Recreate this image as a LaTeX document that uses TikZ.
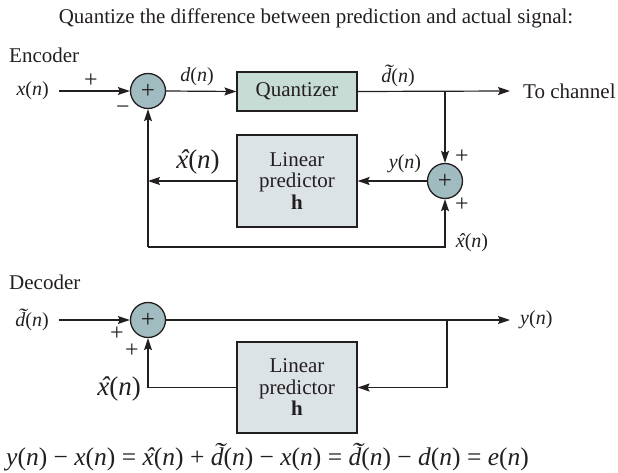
\documentclass[tikz,border=0pt]{standalone}
\usepackage{fontspec}
\setmainfont{Liberation Serif}
\usepackage{xcolor}
\usetikzlibrary{positioning, arrows.meta}

\definecolor{ink}{RGB}{35,31,32}
\definecolor{sumfill}{RGB}{160,188,192}
\definecolor{quantfill}{RGB}{200,220,214}
\definecolor{predfill}{RGB}{220,227,230}

\newcommand{\sgl}[1]{\textit{#1}(\textit{n})}
% hat and tilde laid over an italic letter
\newcommand{\xhat}{\leavevmode\setbox0\hbox{\itshape x}%
  \rlap{\hbox to\wd0{\hss\kern0.12em\itshape ˆ\hss}}\box0}
\newcommand{\dtil}{\leavevmode\setbox0\hbox{\itshape d}%
  \rlap{\hbox to\wd0{\hss\kern0.16em\raisebox{0.2em}{\scalebox{1.35}[1]{˜}}\hss}}\box0}

\begin{document}
\begin{tikzpicture}[
  x=1pt, y=-1pt, color=ink,
  font=\fontsize{21}{22}\selectfont,
  sumnode/.style={draw, circle, fill=sumfill, minimum size=35pt, inner sep=0pt,
                  line width=1.3pt, font=\fontsize{25}{25}\selectfont},
  quantbox/.style={draw, fill=quantfill, minimum width=120pt, minimum height=39pt,
                   line width=1.2pt},
  predbox/.style={draw, fill=predfill, align=center, minimum width=120pt,
                  minimum height=92pt, line width=1.2pt,
                  font=\fontsize{21}{21.5}\selectfont},
  sig/.style={inner sep=1pt, font=\fontsize{20}{20}\selectfont},
  bigsig/.style={inner sep=1pt, font=\fontsize{27}{27}\selectfont},
  sign/.style={inner sep=0pt, font=\fontsize{24}{24}\selectfont},
  arrow/.style={-{Stealth[length=12pt, width=8pt, inset=2pt]}, line width=1.2pt},
]
\useasboundingbox (0,0) rectangle (618,473);

\node (title) at (316,18) {Quantize the difference between prediction and actual signal:};

% encoder
\node[anchor=west, inner sep=0pt] (enc) at (9,55) {Encoder};
\node[sig, anchor=east, inner xsep=10pt] (xin) at (59,91) {\sgl{x}};
\node[sumnode] (sum1) at (148,91) {+};
\node[quantbox] (quant) at (297,91.5) {Quantizer};
\node[anchor=west, inner xsep=13pt] (chan) at (510,91) {To channel};
\coordinate (br1) at (445,91);
\node[sumnode] (sum2) at (445,181) {+};
\node[predbox] (pred1) at (297,181) {Linear\\predictor\\\textbf{h}};
\coordinate (fbl) at (148,247);

\draw[arrow] (xin.east) -- (sum1.west);
\draw[arrow] (sum1.east) -- (quant.west);
\draw[arrow] (quant.east) -- (chan.west);
\draw[arrow] (br1) -- (sum2.north);
\draw[arrow] (sum2.west) -- (pred1.east);
\draw[arrow] (pred1.west) -- (pred1.west -| fbl);
\draw[arrow] (fbl) -- (sum1.south);
\draw[arrow] (fbl) -| (sum2.south);

\node[sign] (p1) at (91,81) {+};
\node[sign] (m1) at (123,110) {−};
\node[sig] (dlbl) at (197,77) {\sgl{d}};
\node[sig] (dtlbl) at (398,76) {\sgl{\dtil}};
\node[sign] (p2) at (462,157) {+};
\node[sign] (p3) at (462,205) {+};
\node[sig] (ylbl) at (405,164) {\sgl{y}};
\node[bigsig] (xhlbl) at (198,162) {\sgl{\xhat}};
\node[sig] (xhlbl2) at (472,243) {\sgl{\xhat}};

% decoder
\node[anchor=west, inner sep=0pt] (dec) at (9,282) {Decoder};
\node[sig, anchor=east, inner xsep=10pt] (dtin) at (59,320) {\sgl{\dtil}};
\node[sumnode] (sum3) at (148,320) {+};
\node[sig, anchor=west, inner xsep=10pt] (yout) at (510,320) {\sgl{y}};
\coordinate (br2) at (447,320);
\node[predbox, minimum height=91pt] (pred2) at (297,387.5) {Linear\\predictor\\\textbf{h}};

\draw[arrow] (dtin.east) -- (sum3.west);
\draw[arrow] (sum3.east) -- (yout.west);
\draw[arrow] (br2) |- (pred2.east);
\draw[arrow] (pred2.west) -| (sum3.south);

\node[sign] (p4) at (117,334) {+};
\node[sign] (p5) at (132,351) {+};
\node[bigsig, anchor=east] (xhlbl3) at (142,389) {\sgl{\xhat}};

\node[anchor=west, inner sep=0pt, font=\fontsize{25.5}{26}\selectfont] (eqn) at (6,457)
  {\sgl{y} − \sgl{x} = \sgl{\xhat} + \sgl{\dtil} − \sgl{x} = \sgl{\dtil} − \sgl{d} = \sgl{e}};
\end{tikzpicture}
\end{document}
